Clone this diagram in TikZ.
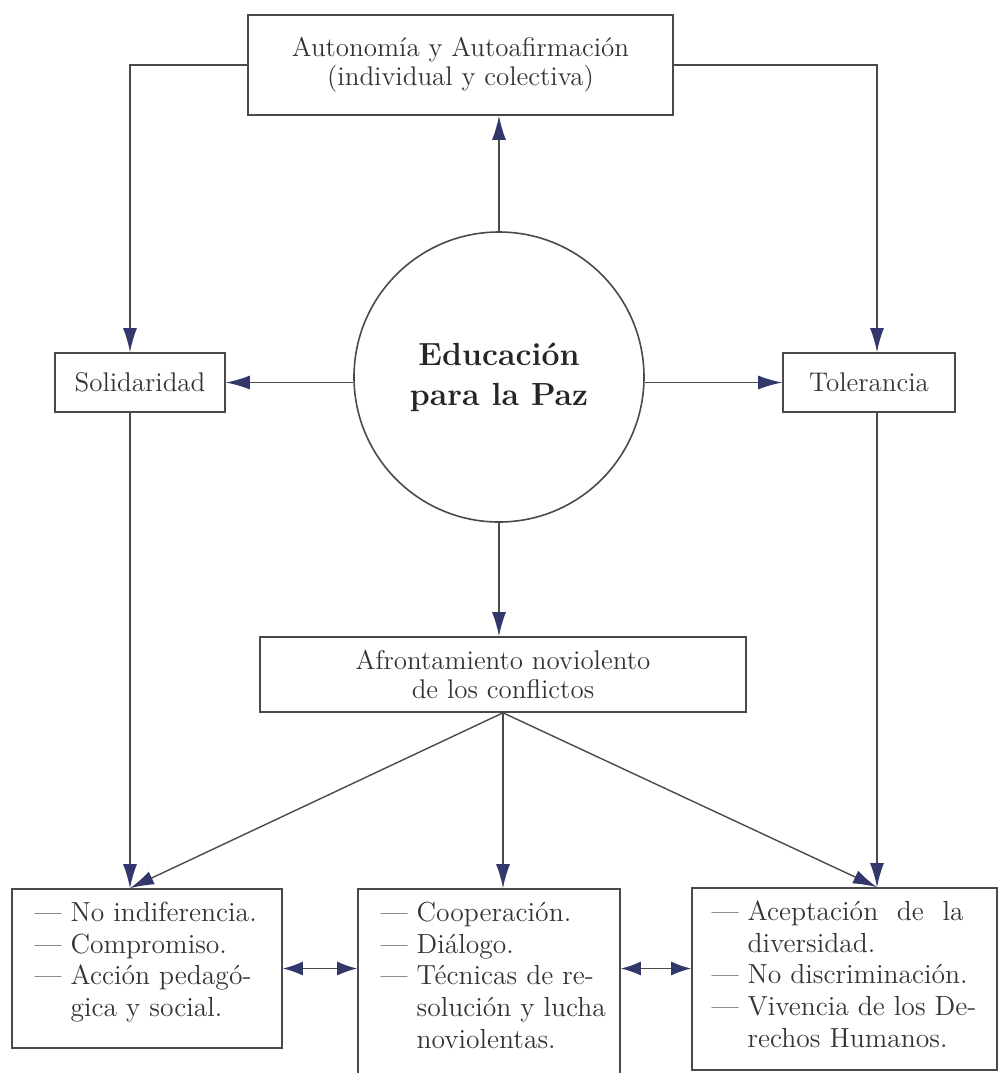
\documentclass[tikz,border=0pt]{standalone}
\usetikzlibrary{arrows.meta}
\definecolor{inkgray}{HTML}{4A4A4A}
\definecolor{tipblue}{HTML}{33386A}
\begin{document}
\begin{tikzpicture}[x=0.5pt,y=-0.5pt]
        \tikzstyle{box}=[rectangle,draw=inkgray,line width=0.8pt,text=black!80,font=\fontsize{13.5}{14.5}\selectfont,align=center,inner sep=0pt]
        \tikzstyle{listbox}=[rectangle,draw=inkgray,line width=0.8pt,inner sep=0pt]
        \tikzstyle{list}=[anchor=north west,inner sep=0pt,text=black!80,font=\fontsize{13.8}{15.8}\selectfont]
        \tikzstyle{arr}=[draw=inkgray,line width=0.7pt,-{Latex[length=12pt,width=7pt,color=tipblue]}]
        \tikzstyle{darr}=[draw=inkgray,line width=0.7pt,{Latex[length=10pt,width=7pt,color=tipblue]}-{Latex[length=10pt,width=7pt,color=tipblue]}]
        \useasboundingbox (0,0) rectangle (1000,1073);
        \clip (0,0) rectangle (1000,1073);
        \node[box,minimum width=212.5pt,minimum height=50pt] (auto) at (460.5,65) {Autonomía y Autoafirmación\\(individual y colectiva)};
        \node[circle,draw=inkgray,line width=0.8pt,minimum size=145pt,inner sep=0pt,align=center,text=black!85,font=\fontsize{16}{20}\selectfont\bfseries] (edu) at (499,377) {Educación\\para la Paz};
        \node[box,minimum width=85pt,minimum height=29.5pt] (sol) at (140,382.5) {Solidaridad};
        \node[box,minimum width=86pt,minimum height=29.5pt] (tol) at (869,382.5) {Tolerancia};
        \node[box,minimum width=243pt,minimum height=37.5pt] (afr) at (503,674.5) {Afrontamiento noviolento\\de los conflictos};
        \node[listbox,minimum width=135pt,minimum height=79.5pt] (bl) at (147,968.5) {};
        \node[listbox,minimum width=131pt,minimum height=110.5pt] (bm) at (489,999.5) {};
        \node[listbox,minimum width=152.5pt,minimum height=91pt] (br) at (844.5,979) {};
        \node[list] (blt) at ([shift={(11.5pt,-5.5pt)}]bl.north west) {\begin{tabular}{@{}l@{\ }l@{}}
            — & No indiferencia.\\
            — & Compromiso.\\
            — & Acción pedagó-\\
              & gica y social.
          \end{tabular}};
        \node[list] (bmt) at ([shift={(11.5pt,-5.5pt)}]bm.north west) {\begin{tabular}{@{}l@{\ }l@{}}
            — & Cooperación.\\
            — & Diálogo.\\
            — & Técnicas de re-\\
              & solución y lucha\\
              & noviolentas.
          \end{tabular}};
        \node[list] (brt) at ([shift={(10pt,-5.5pt)}]br.north west) {\begin{tabular}{@{}l@{\ }l@{}}
            — & \makebox[108pt][s]{Aceptación de la}\\
              & diversidad.\\
            — & No discriminación.\\
            — & Vivencia de los De-\\
              & rechos Humanos.
          \end{tabular}};
        \coordinate (blin) at ([xshift=-5pt]sol.south |- bl.north);
        \coordinate (brin) at ([xshift=4pt]tol.south |- br.north);
        % centre outwards
        \draw[arr] (edu.north) -- (edu.north |- auto.south);
        \draw[arr] (edu.west |- sol.east) -- (sol.east);
        \draw[arr] (edu.east |- tol.west) -- (tol.west);
        \draw[arr] (edu.south) -- (edu.south |- afr.north);
        \draw[arr] (auto.west) -| ([xshift=-5pt]sol.north);
        \draw[arr] (auto.east) -| ([xshift=4pt]tol.north);
        % down to the lists
        \draw[arr] ([xshift=-5pt]sol.south) -- (blin);
        \draw[arr] ([xshift=4pt]tol.south) -- (brin);
        \draw[arr] (afr.south) -- (blin);
        \draw[arr] (afr.south) -- (afr.south |- bm.north);
        \draw[arr] (afr.south) -- (brin);
        \draw[darr] (bl.east) -- (bl.east -| bm.west);
        \draw[darr] (bl.east -| bm.east) -- (bl.east -| br.west);
\end{tikzpicture}
\end{document}
